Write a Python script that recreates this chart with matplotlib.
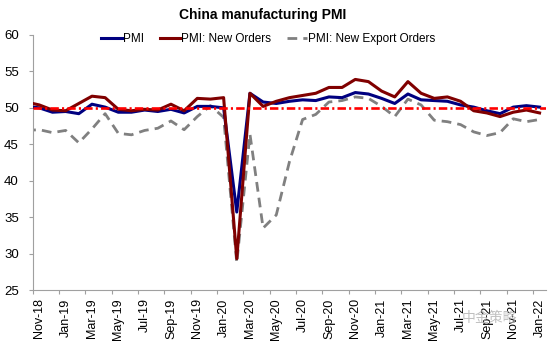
import matplotlib.pyplot as plt
import numpy as np

plt.rcParams['font.family'] = ['Liberation Sans', 'DejaVu Sans']

# Monthly data, Oct-18 .. Jan-22 (Oct-18 sits just left of the plot edge)
months = ["Oct-18", "Nov-18", "Dec-18",
          "Jan-19", "Feb-19", "Mar-19", "Apr-19", "May-19", "Jun-19",
          "Jul-19", "Aug-19", "Sep-19", "Oct-19", "Nov-19", "Dec-19",
          "Jan-20", "Feb-20", "Mar-20", "Apr-20", "May-20", "Jun-20",
          "Jul-20", "Aug-20", "Sep-20", "Oct-20", "Nov-20", "Dec-20",
          "Jan-21", "Feb-21", "Mar-21", "Apr-21", "May-21", "Jun-21",
          "Jul-21", "Aug-21", "Sep-21", "Oct-21", "Nov-21", "Dec-21",
          "Jan-22"]
pmi = [50.2, 50.0, 49.4,
       49.5, 49.2, 50.5, 50.1, 49.4, 49.4,
       49.7, 49.5, 49.8, 49.3, 50.2, 50.2,
       50.0, 35.7, 52.0, 50.8, 50.6, 50.9,
       51.1, 51.0, 51.5, 51.4, 52.1, 51.9,
       51.3, 50.6, 51.9, 51.1, 51.0, 50.9,
       50.4, 50.1, 49.6, 49.2, 50.1, 50.3,
       50.1]
new_orders = [50.8, 50.4, 49.7,
              49.6, 50.6, 51.6, 51.4, 49.8, 49.6,
              49.8, 49.7, 50.5, 49.6, 51.3, 51.2,
              51.4, 29.3, 52.0, 50.2, 50.9, 51.4,
              51.7, 52.0, 52.8, 52.8, 53.9, 53.6,
              52.3, 51.5, 53.6, 52.0, 51.3, 51.5,
              50.9, 49.6, 49.3, 48.8, 49.4, 49.7,
              49.3]
export_orders = [46.9, 47.0, 46.6,
                 46.9, 45.2, 47.1, 49.2, 46.5, 46.3,
                 46.9, 47.2, 48.2, 47.0, 48.8, 50.3,
                 48.7, 28.7, 46.4, 33.5, 35.3, 42.6,
                 48.4, 49.1, 50.8, 51.0, 51.5, 51.3,
                 50.2, 48.8, 51.2, 50.4, 48.3, 48.1,
                 47.7, 46.7, 46.2, 46.6, 48.5, 48.1,
                 48.4]

x = np.arange(len(months)) - 1  # Nov-18 -> 0

fig = plt.figure(figsize=(5.5, 3.43), dpi=100)
ax = fig.add_axes([0.0595, 0.1545, 0.9335, 0.7435])

ax.plot(x, pmi, color='#000080', lw=2.2, label='PMI', zorder=3)
ax.plot(x, new_orders, color='#800000', lw=2.2, label='PMI: New Orders', zorder=4)
ax.plot(x, export_orders, color='#808080', lw=2.0, ls=(0, (3.5, 2.2)),
        label='PMI: New Export Orders', zorder=2)
ax.axhline(50, color='#ff0000', lw=1.9, ls=(0, (3.2, 1.2, 0.8, 1.2)), zorder=5)

ax.set_xlim(-0.5, 38.5)
ax.set_ylim(25, 60)
ax.set_yticks(np.arange(25, 61, 5))

# tick marks between categories, labels under the categories
ax.set_xticks(np.arange(-0.5, 38, 2))
ax.set_xticklabels([])
ax.set_xticks(np.arange(0, 39, 2), minor=True)
ax.set_xticklabels(months[1::2], minor=True, rotation=90, fontsize=9)
ax.tick_params(axis='x', which='major', length=3, color='#a0a0a0')
ax.tick_params(axis='x', which='minor', length=0, pad=6)
ax.tick_params(axis='y', length=3, pad=7, color='#a0a0a0', labelsize=9.5)

for s in ['top', 'right']:
    ax.spines[s].set_visible(False)
for s in ['left', 'bottom']:
    ax.spines[s].set_color('#a0a0a0')

fig.text(0.478, 0.955, 'China manufacturing PMI', ha='center', va='center',
         fontsize=10, fontweight='bold')
fig.legend(loc='center', bbox_to_anchor=(0.488, 0.886), ncol=3, frameon=False,
           fontsize=8.5, handlelength=1.7, handletextpad=0.1, columnspacing=1.35)

# watermark
fig.text(0.89, 0.073, '中金策略', fontsize=10, color='#b0b0b0', alpha=0.8,
         family=['Noto Sans CJK SC', 'DejaVu Sans'], ha='center', va='center')

fig.savefig('out.png', dpi=100)
